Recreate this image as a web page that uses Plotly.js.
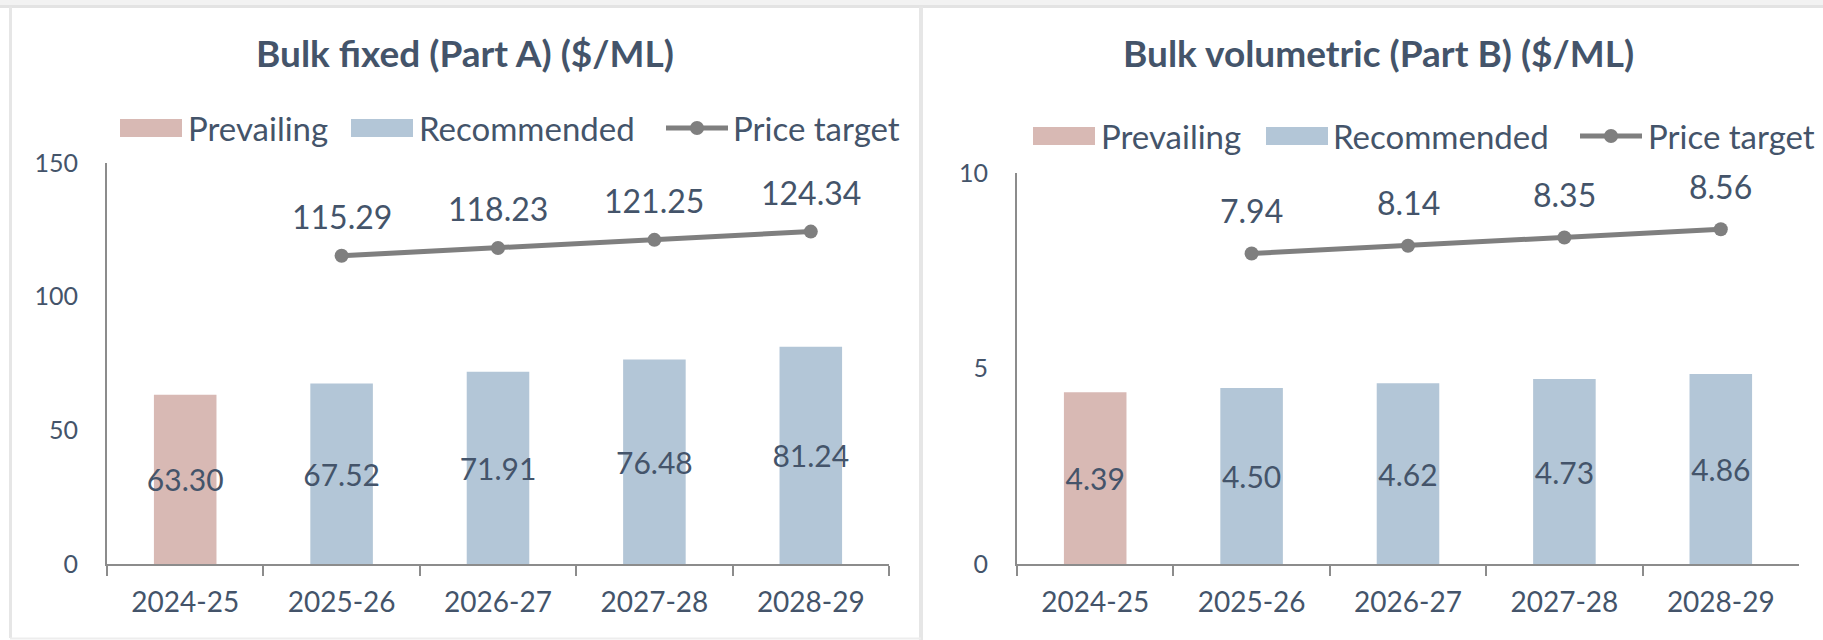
<!DOCTYPE html>
<html>
<head>
<meta charset="utf-8">
<script src="https://cdn.plot.ly/plotly-3.0.1.min.js"></script>
<style>html,body{margin:0;padding:0;background:#fff;}#chart{width:1823px;height:640px;}</style>
</head>
<body>
<div id="chart"></div>
<script>
// ---- data ----
var categories = ["2024-25", "2025-26", "2026-27", "2027-28", "2028-29"];

var titleA = "Bulk fixed (Part A) ($/ML)";
var prevailingA = [63.30];
var recommendedA = [67.52, 71.91, 76.48, 81.24];
var priceTargetA = [115.29, 118.23, 121.25, 124.34];
var yTicksA = [0, 50, 100, 150];

var titleB = "Bulk volumetric (Part B) ($/ML)";
var prevailingB = [4.39];
var recommendedB = [4.50, 4.62, 4.73, 4.86];
var priceTargetB = [7.94, 8.14, 8.35, 8.56];
var yTicksB = [0, 5, 10];

var legendNames = ["Prevailing", "Recommended", "Price target"];

// ---- style ----
var W = 1823, H = 640;
var FONT = "Lato, 'Open Sans', sans-serif";
var TXT = "#44546A";
var C_PREV = "#D8B9B4";
var C_REC = "#B3C6D7";
var C_LINE = "#7F7F7F";
var AX = "#8C8C8C";

function px(x) { return x / W; }
function py(y) { return 1 - y / H; }

var prevCats = categories.slice(0, prevailingA.length);
var recCats = categories.slice(prevailingA.length);
var lineCats = categories.slice(categories.length - priceTargetA.length);

function barTrace(x, y, color, xa, ya, name) {
  return {
    type: "bar", x: x, y: y, xaxis: xa, yaxis: ya, name: name,
    width: 0.4, marker: {color: color, line: {width: 0}},
    texttemplate: "%{y:.2f}", textposition: "inside", insidetextanchor: "middle",
    textangle: 0, constraintext: "none", cliponaxis: false,
    textfont: {family: FONT, size: 30, color: TXT},
    hoverinfo: "x+y", showlegend: false
  };
}
function lineTrace(x, y, xa, ya) {
  return {
    type: "scatter", mode: "lines+markers", x: x, y: y, xaxis: xa, yaxis: ya,
    name: legendNames[2], line: {color: C_LINE, width: 5},
    marker: {color: C_LINE, size: 14}, cliponaxis: false, showlegend: false
  };
}

var data = [
  barTrace(prevCats, prevailingA, C_PREV, "x", "y", legendNames[0]),
  barTrace(recCats, recommendedA, C_REC, "x", "y", legendNames[1]),
  lineTrace(lineCats, priceTargetA, "x", "y"),
  barTrace(prevCats, prevailingB, C_PREV, "x2", "y2", legendNames[0]),
  barTrace(recCats, recommendedB, C_REC, "x2", "y2", legendNames[1]),
  lineTrace(lineCats, priceTargetB, "x2", "y2")
];

function xAxis(domain, anchor) {
  return {
    domain: domain, anchor: anchor, type: "category",
    categoryorder: "array", categoryarray: categories,
    showline: true, linecolor: AX, linewidth: 2,
    ticks: "outside", tickson: "boundaries", ticklen: 10, tickwidth: 2, tickcolor: AX,
    ticklabelstandoff: 12,
    tickfont: {family: FONT, size: 28, color: TXT},
    showgrid: false, zeroline: false, fixedrange: true
  };
}
function yAxis(domain, anchor, range, ticks) {
  return {
    domain: domain, anchor: anchor, range: range,
    tickmode: "array", tickvals: ticks, ticktext: ticks.map(String),
    showline: true, linecolor: AX, linewidth: 2, ticks: "",
    ticklabelstandoff: 22,
    tickfont: {family: FONT, size: 25, color: TXT},
    showgrid: false, zeroline: false, fixedrange: true
  };
}

var annotations = [];
function addLabels(vals, xref, yref, shift) {
  vals.forEach(function (v, i) {
    annotations.push({
      x: lineCats[i], y: v, xref: xref, yref: yref, text: v.toFixed(2),
      showarrow: false, yshift: shift,
      font: {family: FONT, size: 32, color: TXT}
    });
  });
}
addLabels(priceTargetA, "x", "y", 39);
addLabels(priceTargetB, "x2", "y2", 43);

// titles
annotations.push({text: "<b>" + titleA + "</b>", xref: "paper", yref: "paper",
  x: px(465), y: py(52), xanchor: "center", yanchor: "middle", showarrow: false,
  font: {family: FONT, size: 37, color: TXT}});
annotations.push({text: "<b>" + titleB + "</b>", xref: "paper", yref: "paper",
  x: px(1378), y: py(52), xanchor: "center", yanchor: "middle", showarrow: false,
  font: {family: FONT, size: 37, color: TXT}});

// custom legends
var shapes = [];
function addLegend(cy, sw, tx) {
  shapes.push({type: "rect", xref: "paper", yref: "paper", x0: px(sw[0]), x1: px(sw[0] + 62),
    y0: py(cy - 9), y1: py(cy + 9), fillcolor: C_PREV, line: {width: 0}});
  shapes.push({type: "rect", xref: "paper", yref: "paper", x0: px(sw[1]), x1: px(sw[1] + 62),
    y0: py(cy - 9), y1: py(cy + 9), fillcolor: C_REC, line: {width: 0}});
  shapes.push({type: "line", xref: "paper", yref: "paper", x0: px(sw[2]), x1: px(sw[2] + 62),
    y0: py(cy), y1: py(cy), line: {color: C_LINE, width: 5}});
  shapes.push({type: "circle", xref: "paper", yref: "paper", x0: px(sw[2] + 24), x1: px(sw[2] + 38),
    y0: py(cy - 7), y1: py(cy + 7), fillcolor: C_LINE, line: {width: 0}});
  for (var i = 0; i < 3; i++) {
    annotations.push({text: legendNames[i], xref: "paper", yref: "paper",
      x: px(tx[i]), y: py(cy), xanchor: "left", yanchor: "middle", showarrow: false,
      font: {family: FONT, size: 33, color: TXT}});
  }
}
addLegend(128, [120, 351, 666], [186, 417, 731]);
addLegend(136, [1033, 1266, 1580], [1099, 1331, 1646]);

// panel borders
shapes.push({type: "rect", xref: "paper", yref: "paper", x0: 0, x1: 1, y0: py(8), y1: 1,
  fillcolor: "#F2F2F2", line: {width: 0}, layer: "below"});
shapes.push({type: "line", xref: "paper", yref: "paper", x0: 0, x1: 1, y0: py(6.5), y1: py(6.5),
  line: {color: "#E3E3E3", width: 3}, layer: "below"});
shapes.push({type: "line", xref: "paper", yref: "paper", x0: px(10.5), x1: px(10.5), y0: py(638), y1: py(6.5),
  line: {color: "#E6E6E6", width: 3}, layer: "below"});
shapes.push({type: "line", xref: "paper", yref: "paper", x0: px(921), x1: px(921), y0: 0, y1: py(6.5),
  line: {color: "#E6E6E6", width: 4}, layer: "below"});
shapes.push({type: "line", xref: "paper", yref: "paper", x0: px(10), x1: px(921), y0: py(638.5), y1: py(638.5),
  line: {color: "#EDEDED", width: 2}, layer: "below"});

var layout = {
  width: W, height: H,
  margin: {l: 0, r: 0, t: 0, b: 0},
  paper_bgcolor: "#FFFFFF", plot_bgcolor: "rgba(0,0,0,0)",
  showlegend: false, barmode: "overlay",
  font: {family: FONT, color: TXT},
  xaxis: xAxis([px(107), px(889)], "y"),
  yaxis: yAxis([py(564), py(163)], "x", [0, 150], yTicksA),
  xaxis2: xAxis([px(1017), px(1799)], "y2"),
  yaxis2: yAxis([py(564), py(173)], "x2", [0, 10], yTicksB),
  annotations: annotations,
  shapes: shapes
};

Plotly.newPlot("chart", data, layout, {displayModeBar: false, staticPlot: true});
</script>
</body>
</html>
